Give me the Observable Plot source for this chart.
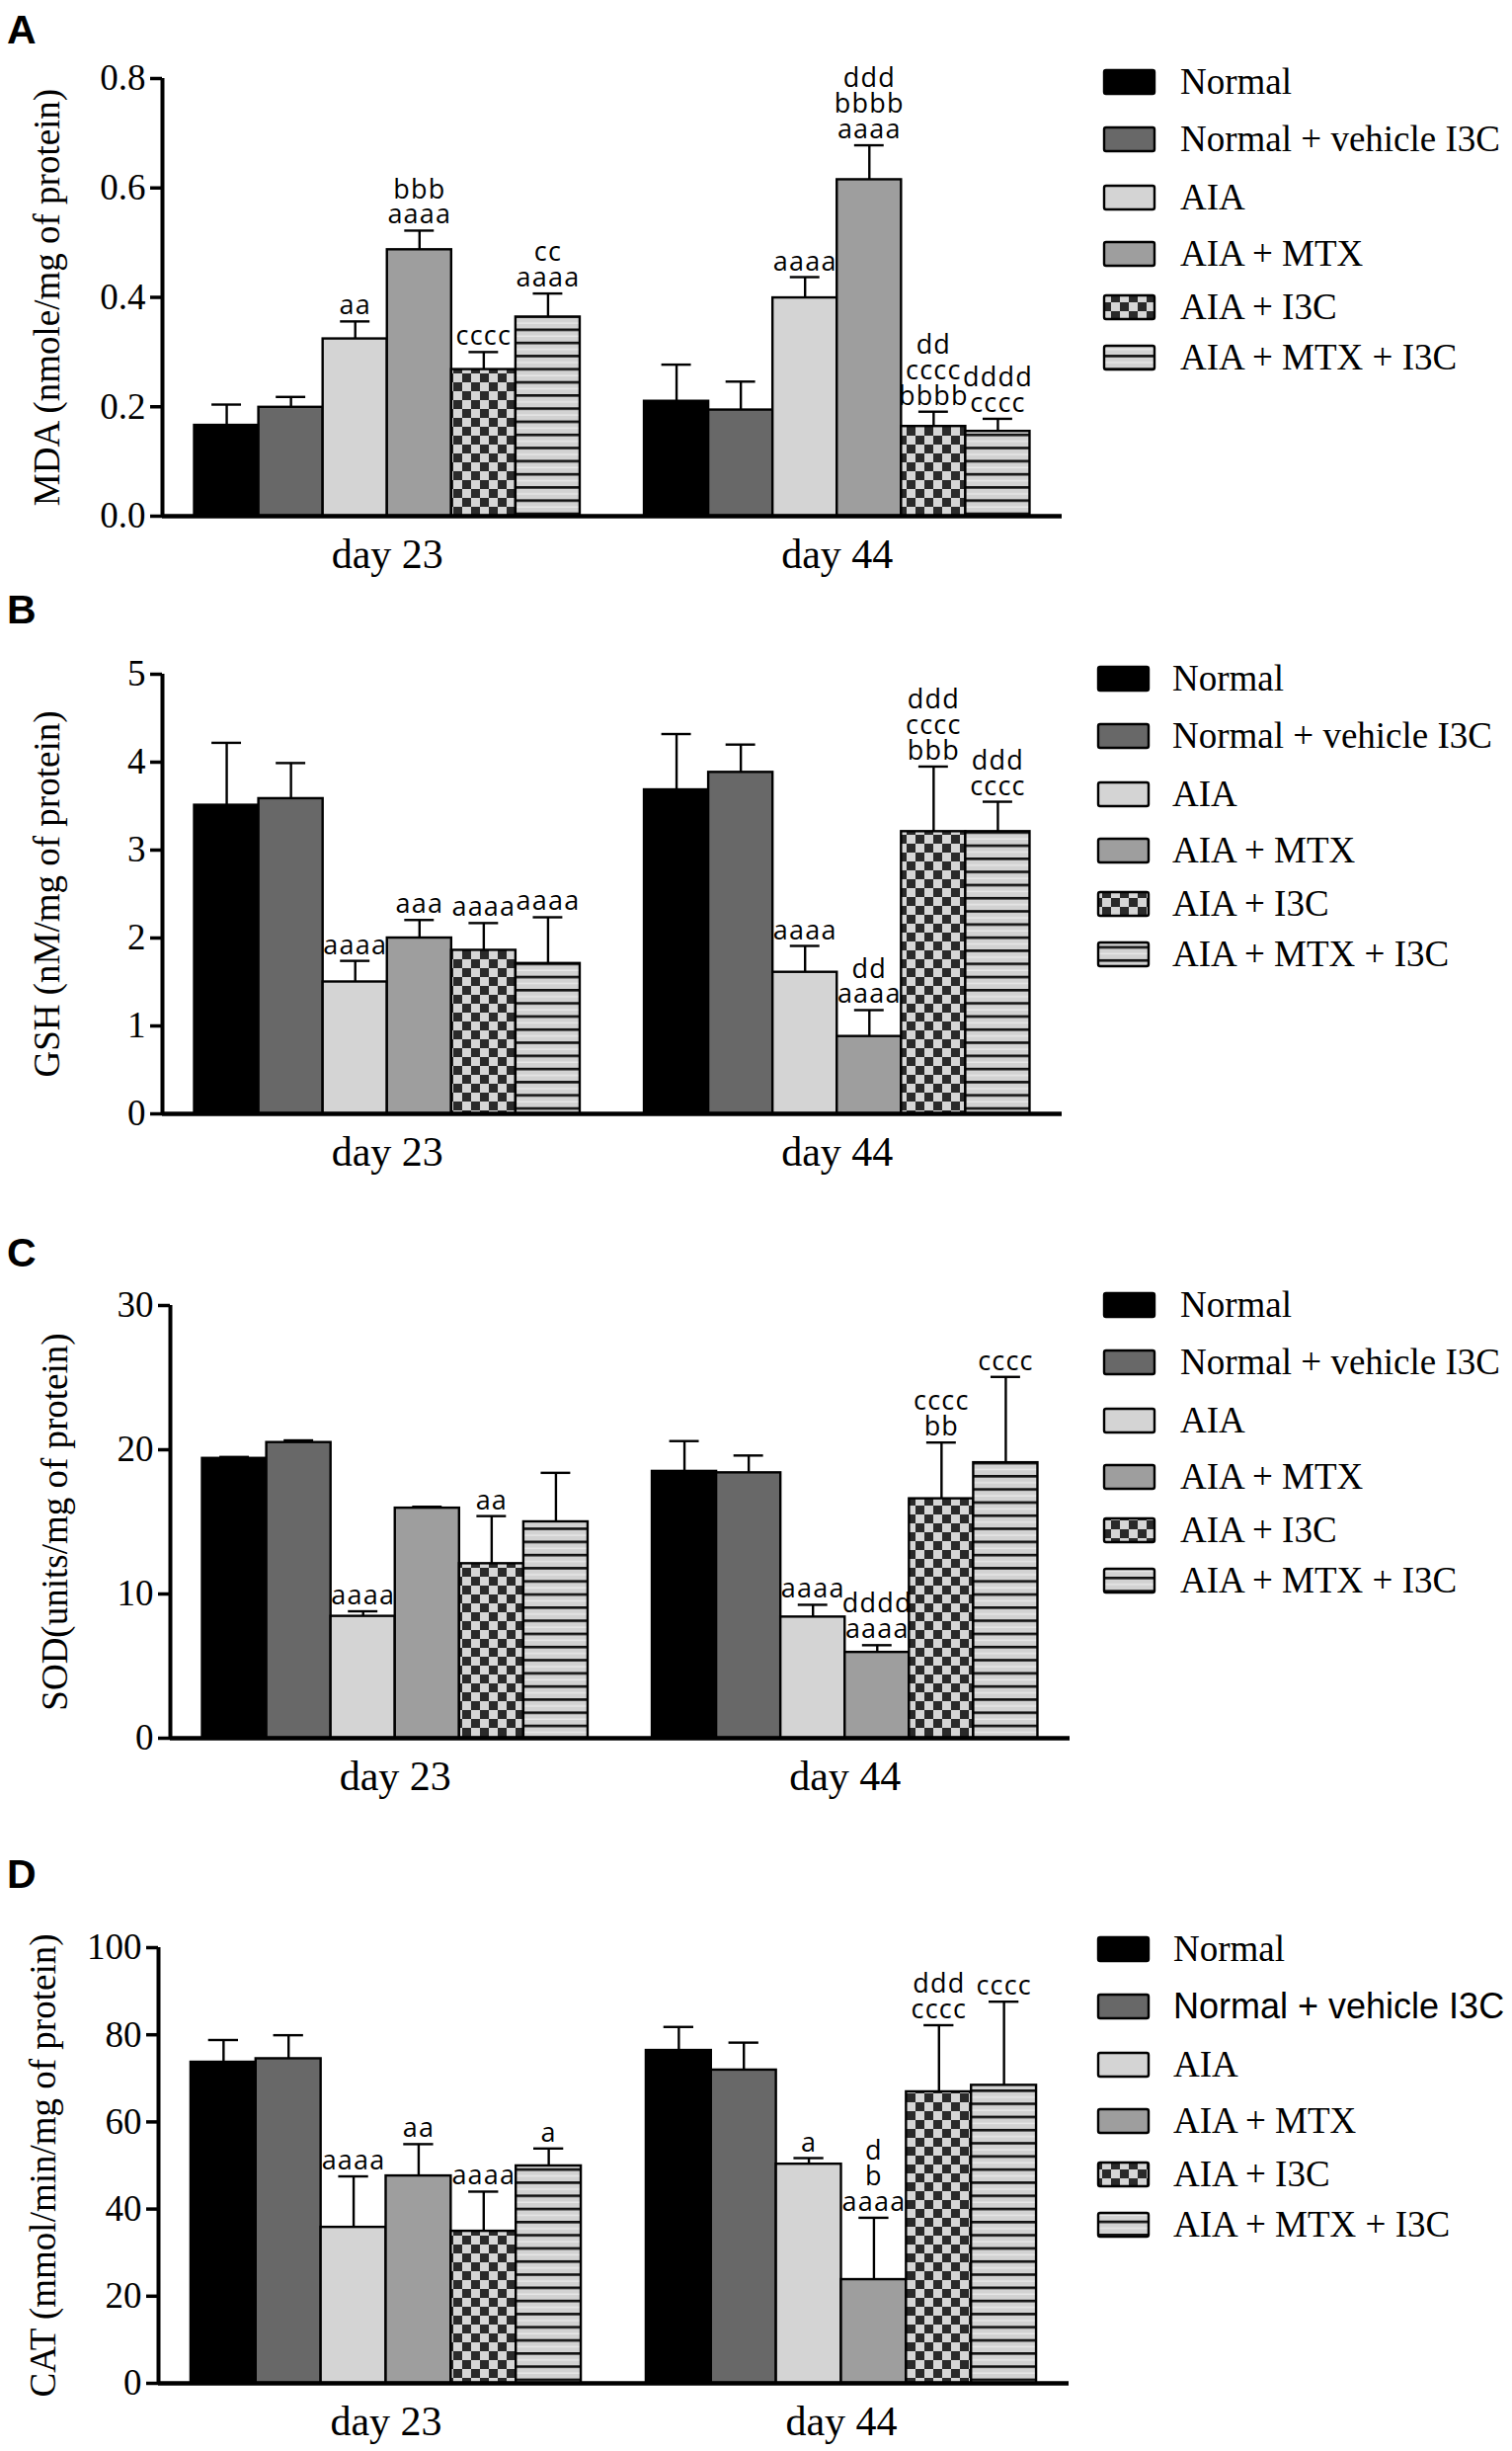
<!DOCTYPE html>
<html>
<head>
<meta charset="utf-8">
<script src="https://cdn.jsdelivr.net/npm/d3@7"></script>
<script src="https://cdn.jsdelivr.net/npm/@observablehq/plot@0.6"></script>
<style>
  body { margin: 0; background: #ffffff; }
  #root { position: relative; width: 1531px; height: 2481px; background: #ffffff; overflow: hidden; }
  #root > svg.plotsvg { position: absolute; left: 0; }
  #overlay { position: absolute; left: 0; top: 0; pointer-events: none; }
  .sig text { letter-spacing: 1.2px; }
</style>
</head>
<body>
<svg width="0" height="0" style="position:absolute">
  <defs>
    <pattern id="checker" patternUnits="userSpaceOnUse" width="18" height="18">
      <rect width="18" height="18" fill="#d6d6d6"/>
      <rect width="9" height="9" fill="#2a2a2a"/>
      <rect x="9" y="9" width="9" height="9" fill="#2a2a2a"/>
    </pattern>
    <pattern id="stripes" patternUnits="userSpaceOnUse" width="20" height="13.3">
      <rect width="20" height="13.3" fill="#d2d2d2"/>
      <rect y="0" width="20" height="2.6" fill="#111111"/>
      <rect y="7.2" width="20" height="1.2" fill="#ececec"/>
    </pattern>
  </defs>
</svg>
<div id="root"></div>
<script>
// ---------- data ----------
const groups = ["Normal", "Normal + vehicle I3C", "AIA", "AIA + MTX", "AIA + I3C", "AIA + MTX + I3C"];
const days = ["day 23", "day 44"];
const groupFills = ["#000000", "#686868", "#d4d4d4", "#9e9e9e", "url(#checker)", "url(#stripes)"];

// A: MDA
const mdaMean = [[0.166, 0.199, 0.324, 0.487, 0.268, 0.364], [0.210, 0.194, 0.399, 0.615, 0.164, 0.155]];
const mdaSem  = [[0.038, 0.019, 0.032, 0.035, 0.032, 0.043], [0.067, 0.052, 0.038, 0.063, 0.027, 0.023]];
const mdaSig  = [["", "", "aa", "bbb\naaaa", "cccc", "cc\naaaa"], ["", "", "aaaa", "ddd\nbbbb\naaaa", "dd\ncccc\nbbbb", "dddd\ncccc"]];
const mdaTicks = [0, 0.2, 0.4, 0.6, 0.8];

// B: GSH
const gshMean = [[3.51, 3.585, 1.50, 2.00, 1.86, 1.71], [3.685, 3.884, 1.61, 0.88, 3.21, 3.21]];
const gshSem  = [[0.71, 0.405, 0.24, 0.205, 0.31, 0.526], [0.635, 0.316, 0.30, 0.30, 0.74, 0.34]];
const gshSig  = [["", "", "aaaa", "aaa", "aaaa", "aaaa"], ["", "", "aaaa", "dd\naaaa", "ddd\ncccc\nbbb", "ddd\ncccc"]];
const gshTicks = [0, 1, 2, 3, 4, 5];

// C: SOD
const sodMean = [[19.4, 20.5, 8.45, 15.95, 12.1, 15.0], [18.5, 18.4, 8.4, 5.95, 16.6, 19.1]];
const sodSem  = [[0.1, 0.15, 0.35, 0.1, 3.3, 3.4], [2.1, 1.2, 0.85, 0.5, 3.9, 5.95]];
const sodSig  = [["", "", "aaaa", "", "aa", ""], ["", "", "aaaa", "dddd\naaaa", "cccc\nbb", "cccc"]];
const sodTicks = [0, 10, 20, 30];

// D: CAT
const catMean = [[73.7, 74.5, 35.8, 47.6, 34.9, 49.9], [76.4, 71.9, 50.3, 23.8, 66.9, 68.4]];
const catSem  = [[5.1, 5.4, 11.7, 7.3, 9.1, 4.0], [5.4, 6.3, 1.4, 14.2, 15.3, 19.2]];
const catSig  = [["", "", "aaaa", "aa", "aaaa", "a"], ["", "", "a", "d\nb\naaaa", "ddd\ncccc", "cccc"]];
const catTicks = [0, 20, 40, 60, 80, 100];

// ---------- layout ----------
const W = 1531;
const serif = "Liberation Serif, Times New Roman, serif";
const sans = "Liberation Sans, Arial, sans-serif";
const legendOffsets = [0, 58, 117, 174, 228, 279];

const panels = [
  {letter: "A", title: "MDA (nmole/mg of protein)", mean: mdaMean, sem: mdaSem, sig: mdaSig, ticks: mdaTicks, fmt: d3.format(".1f"),
   top: 0, height: 602, yTop: 79, yZero: 522, axisX: 164, axisEnd: 1075, letterY: 44, legendY: 83, swatchX: 1118, textX: 1195, sansRow: -1},
  {letter: "B", title: "GSH (nM/mg of protein)", mean: gshMean, sem: gshSem, sig: gshSig, ticks: gshTicks, fmt: d3.format("d"),
   top: 602, height: 625, yTop: 682, yZero: 1127, axisX: 164, axisEnd: 1075, letterY: 631, legendY: 687, swatchX: 1112, textX: 1187, sansRow: -1},
  {letter: "C", title: "SOD(units/mg of protein)", mean: sodMean, sem: sodSem, sig: sodSig, ticks: sodTicks, fmt: d3.format("d"),
   top: 1227, height: 622, yTop: 1321, yZero: 1759, axisX: 172, axisEnd: 1083, letterY: 1282, legendY: 1321, swatchX: 1118, textX: 1195, sansRow: -1},
  {letter: "D", title: "CAT (mmol/min/mg of protein)", mean: catMean, sem: catSem, sig: catSig, ticks: catTicks, fmt: d3.format("d"),
   top: 1849, height: 632, yTop: 1971, yZero: 2412, axisX: 160, axisEnd: 1082, letterY: 1911, legendY: 1973, swatchX: 1112, textX: 1188, sansRow: 1}
];

const root = document.getElementById("root");
const slot = groups.length + 1;                       // six bars + one-bar gap per day
const xDomain = [-0.5, days.length * slot - 0.5];
const capHalf = 0.23;

for (const p of panels) {
  const rows = [];
  days.forEach((day, d) => groups.forEach((g, i) => rows.push({
    day, group: g, mean: p.mean[d][i], sem: p.sem[d][i], sig: p.sig[d][i], pos: d * slot + i
  })));
  const dayRows = days.map((day, d) => ({day, c: d * slot + groups.length / 2}));
  const yMax = p.ticks[p.ticks.length - 1];

  const chart = Plot.plot({
    width: W,
    height: p.height,
    marginLeft: p.axisX,
    marginRight: W - p.axisEnd,
    marginTop: p.yTop - p.top,
    marginBottom: p.top + p.height - p.yZero,
    style: {background: "transparent", overflow: "visible"},
    x: {domain: xDomain, axis: null},
    y: {domain: [0, yMax]},
    color: {type: "ordinal", domain: groups, range: groupFills},
    marks: [
      Plot.rectY(rows, {x1: "pos", x2: d => d.pos + 1, y1: 0, y2: "mean", fill: "group", stroke: "#000", strokeWidth: 2.4}),
      Plot.ruleX(rows, {x: d => d.pos + 0.5, y1: "mean", y2: d => d.mean + d.sem, stroke: "#000", strokeWidth: 2.4}),
      Plot.ruleY(rows, {y: d => d.mean + d.sem, x1: d => d.pos + 0.5 - capHalf, x2: d => d.pos + 0.5 + capHalf, stroke: "#000", strokeWidth: 2.4}),
      Plot.text(rows.filter(r => r.sig), {x: d => d.pos + 0.5, y: d => d.mean + d.sem, text: "sig", lineAnchor: "bottom", dy: -7,
        fontSize: 27, fontFamily: "Open Sans, sans-serif", lineHeight: 0.96, fill: "#000", className: "sig"}),
      Plot.ruleX([xDomain[0]], {stroke: "#000", strokeWidth: 4}),
      Plot.ruleY([0], {stroke: "#000", strokeWidth: 4.5}),
      Plot.axisY({ticks: p.ticks, tickFormat: p.fmt, tickSize: 12, tickPadding: 5, stroke: "#000", strokeWidth: 3.5,
        fontSize: 37, fontFamily: serif, fill: "#000", label: null}),
      Plot.text([p.title], {text: d => d, frameAnchor: "left", textAnchor: "middle", dx: -116, rotate: -90, lineAnchor: "middle",
        fontSize: 37, fontFamily: serif, fill: "#000"}),
      Plot.text(dayRows, {x: "c", text: "day", frameAnchor: "bottom", dy: 39, lineAnchor: "middle",
        fontSize: 42, fontFamily: serif, fill: "#000"})
    ]
  });
  chart.classList.add("plotsvg");
  chart.style.top = p.top + "px";
  root.appendChild(chart);
}

// ---------- overlay: panel letters and legends ----------
const overlay = d3.select(root).append("svg")
  .attr("id", "overlay")
  .attr("width", W)
  .attr("height", 2481);

for (const p of panels) {
  overlay.append("text")
    .attr("x", 7).attr("y", p.letterY)
    .attr("font-family", sans).attr("font-weight", "bold").attr("font-size", 41)
    .text(p.letter);

  const lg = overlay.append("g");
  groups.forEach((g, i) => {
    const cy = p.legendY + legendOffsets[i];
    lg.append("rect")
      .attr("x", p.swatchX).attr("y", cy - 12)
      .attr("width", 51).attr("height", 24)
      .attr("rx", 2)
      .attr("fill", groupFills[i])
      .attr("stroke", "#000").attr("stroke-width", 2.4);
    const isSans = i === p.sansRow;
    lg.append("text")
      .attr("x", p.textX).attr("y", cy + 12)
      .attr("font-family", isSans ? sans : serif)
      .attr("font-size", isSans ? 36 : 37)
      .attr("fill", "#000")
      .text(g);
  });
}
</script>
</body>
</html>
